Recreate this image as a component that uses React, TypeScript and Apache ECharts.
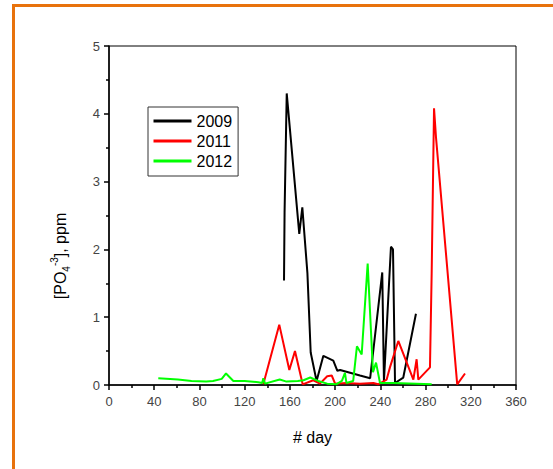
import React, { useEffect, useRef } from "react";
import * as echarts from "echarts";

const xTicks = [0, 40, 80, 120, 160, 200, 240, 280, 320, 360];
const yTicks = [0, 1, 2, 3, 4, 5];

const days2009 = [154.8, 155.3, 157.2, 168.3, 171, 175.5, 178.4, 183.6, 189.6, 198.4, 202, 204.4, 222, 231, 241.7, 243.2, 249.4, 251.2, 253, 260.3, 271.5];
const ppm2009 = [1.54, 2.55, 4.3, 2.23, 2.62, 1.65, 0.48, 0.06, 0.43, 0.36, 0.21, 0.22, 0.14, 0.1, 1.66, 0.06, 2.04, 2.0, 0.03, 0.11, 1.05];

const days2011 = [136.5, 150.6, 159.5, 164.5, 171.3, 180.7, 186.6, 193, 197, 200, 210, 222, 233.8, 238, 245.6, 248.5, 255.9, 269.2, 272.1, 273.6, 283.9, 285.4, 287.5, 289.2, 308, 314.9];
const ppm2011 = [0.01, 0.89, 0.22, 0.5, 0.01, 0.07, 0.02, 0.13, 0.14, 0.02, 0.03, 0.02, 0.03, 0.01, 0.08, 0.26, 0.65, 0.08, 0.38, 0.08, 0.26, 1.64, 4.08, 3.66, 0.01, 0.17];

const days2012 = [43.6, 61, 73, 86, 92, 99.7, 103.5, 110, 120, 132, 135.5, 136.5, 138, 151, 157, 167, 172, 178, 185, 193, 201, 206, 208.7, 210, 216, 219.3, 223.5, 228.8, 233.5, 236.2, 239.7, 251.5, 285.4];
const ppm2012 = [0.1, 0.08, 0.06, 0.05, 0.06, 0.09, 0.17, 0.06, 0.06, 0.04, 0.03, 0.1, 0.02, 0.08, 0.05, 0.06, 0.07, 0.11, 0.06, 0.02, 0.01, 0.06, 0.18, 0.03, 0.06, 0.57, 0.45, 1.79, 0.19, 0.33, 0.03, 0.03, 0.01];

const seriesNames = ["2009", "2011", "2012"];
const seriesColors = ["#000000", "#ff0000", "#00ff00"];

const zip = (xs: number[], ys: number[]) => xs.map((x, i) => [x, ys[i]]);

export default function App() {
  const ref = useRef<HTMLDivElement>(null);
  useEffect(() => {
    if (!ref.current) return;
    const chart = echarts.init(ref.current, null, { renderer: "svg" });
    const font = '"Liberation Sans", Arial, sans-serif';
    const datasets = [zip(days2009, ppm2009), zip(days2011, ppm2011), zip(days2012, ppm2012)];
    const axisCommon = {
      axisLine: { show: true, onZero: false, lineStyle: { color: "#000", width: 1.5 } },
      axisTick: { show: true, length: 5, lineStyle: { color: "#000", width: 1.5 } },
      minorTick: { show: true, splitNumber: 2, length: 3, lineStyle: { color: "#000", width: 1.5 } },
      splitLine: { show: false },
      minorSplitLine: { show: false },
    };
    chart.setOption({
      animation: false,
      backgroundColor: "#fff",
      textStyle: { fontFamily: font },
      grid: { left: 109, top: 46, right: 37, bottom: 84, show: true, borderColor: "#000", borderWidth: 1, backgroundColor: "transparent" },
      xAxis: {
        type: "value",
        min: xTicks[0],
        max: xTicks[xTicks.length - 1],
        interval: 40,
        name: "# day",
        nameLocation: "middle",
        nameGap: 44,
        nameTextStyle: { fontSize: 16, color: "#000", fontFamily: font },
        axisLabel: { fontSize: 13, color: "#444", margin: 10, fontFamily: font },
        ...axisCommon,
      },
      yAxis: {
        type: "value",
        min: yTicks[0],
        max: yTicks[yTicks.length - 1],
        interval: 1,
        axisLabel: { fontSize: 13, color: "#444", margin: 9, fontFamily: font },
        ...axisCommon,
      },
      legend: {
        orient: "vertical",
        left: 148,
        top: 107,
        data: seriesNames,
        icon: "rect",
        itemWidth: 38,
        itemHeight: 3,
        itemGap: 4,
        padding: [6, 6, 7, 5.5],
        borderColor: "#333",
        borderWidth: 1,
        backgroundColor: "#fff",
        textStyle: { fontSize: 16, color: "#000", lineHeight: 16, fontFamily: font },
      },
      series: seriesNames.map((n, i) => ({
        type: "line",
        name: n,
        data: datasets[i],
        symbol: "none",
        showSymbol: false,
        lineStyle: { width: 2, color: seriesColors[i] },
        itemStyle: { color: seriesColors[i] },
        z: 2 + i,
      })),
      graphic: [
        { type: "rect", shape: { x: 12, y: 4, width: 541, height: 3 }, style: { fill: "#e8720c" }, silent: true },
        { type: "rect", shape: { x: 12, y: 4, width: 3, height: 465 }, style: { fill: "#e8720c" }, silent: true },
        {
          type: "text",
          x: 60,
          y: 256,
          rotation: Math.PI / 2,
          style: {
            text: "{a|[PO}{sub|4}{sup|-3}{a|], ppm}",
            align: "center",
            verticalAlign: "middle",
            rich: {
              a: { fontSize: 16, fontFamily: font, fill: "#000", lineHeight: 22, verticalAlign: "middle" },
              sub: { fontSize: 10, fontFamily: font, fill: "#000", lineHeight: 10, verticalAlign: "bottom" },
              sup: { fontSize: 10, fontFamily: font, fill: "#000", lineHeight: 10, verticalAlign: "top" },
            },
          },
        },
      ],
    });
    return () => chart.dispose();
  }, []);
  return <div ref={ref} style={{ position: "fixed", left: 0, top: 0, width: 553, height: 469 }} />;
}
